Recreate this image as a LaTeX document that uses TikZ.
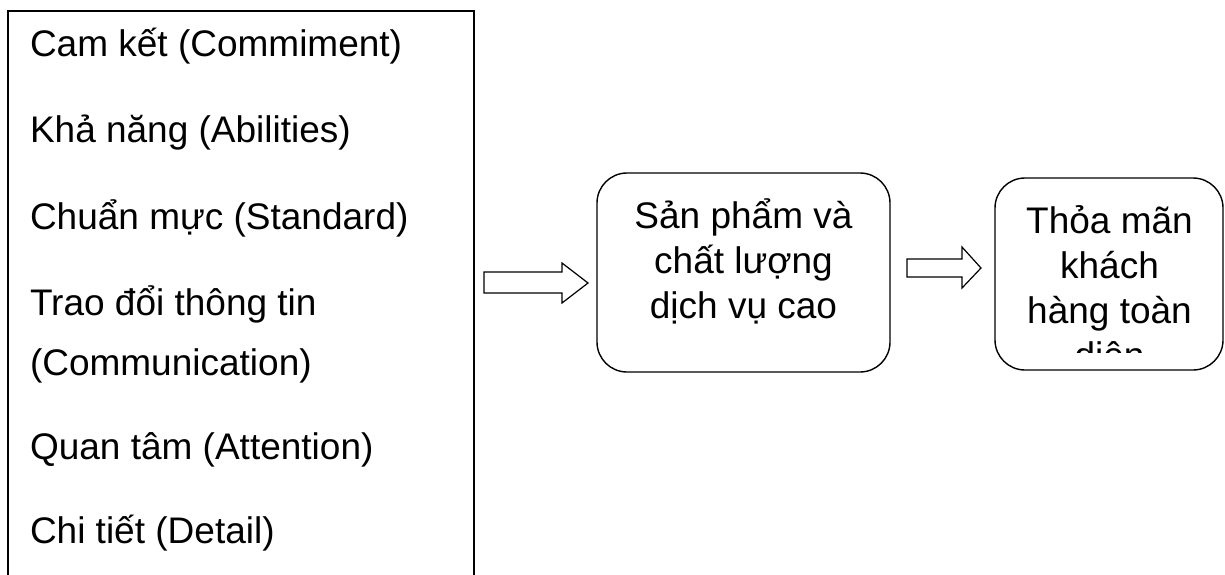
\documentclass[tikz,border=0pt]{standalone}
\usepackage{fontspec}
\setmainfont{Liberation Sans}
\begin{document}
\begin{tikzpicture}[x=1pt,y=-1pt,
  every node/.style={inner sep=0pt, outer sep=0pt},
  txt/.style={font=\fontsize{37}{45}\selectfont},
  leftitem/.style={txt, anchor=base west},
  boxline/.style={txt, anchor=base},
  frame/.style={draw=black, line width=1.4pt},
  rbox/.style={draw=black, line width=1.4pt, rounded corners=30pt},
  blockarrow/.style={draw=black, line width=1.2pt, fill=white}]
\useasboundingbox (0,0) rectangle (1225,574);
% left list box
\draw[frame] (8,600) |- (474,11) -- (474,600);
\node[leftitem] (l1) at (30,56) {Cam kết (Commiment)};
\node[leftitem] (l2) at (30,142) {Khả năng (Abilities)};
\node[leftitem] (l3) at (30,229) {Chuẩn mực (Standard)};
\node[leftitem] (l4) at (30,315) {Trao đổi thông tin};
\node[leftitem] (l5) at (30,375) {(Communication)};
\node[leftitem] (l6) at (30,459) {Quan tâm (Attention)};
\node[leftitem] (l7) at (30,543) {Chi tiết (Detail)};
% box 2
\draw[rbox] (597,173) rectangle (890,372);
\node[boxline] (b1) at (743.5,228) {Sản phẩm và};
\node[boxline] (b2) at (743.5,273) {chất lượng};
\node[boxline] (b3) at (743.5,318) {dịch vụ cao};
% box 3
\draw[rbox] (995,178) rectangle (1223,370);
\begin{scope}
\clip (995,178) rectangle (1223,352);
\node[boxline] (c1) at (1109.5,233) {Thỏa mãn};
\node[boxline] (c2) at (1109.5,278) {khách};
\node[boxline] (c3) at (1109.5,323) {hàng toàn};
\node[boxline] (c4) at (1109.5,368) {diện};
\end{scope}
% block arrows
\draw[blockarrow] (484,272) -- (562,272) -- (562,263) -- (588,283) -- (562,303) -- (562,293) -- (484,293) -- cycle;
\draw[blockarrow] (907,259) -- (962,259) -- (962,247) -- (981,268) -- (962,288) -- (962,277) -- (907,277) -- cycle;
\end{tikzpicture}
\end{document}
